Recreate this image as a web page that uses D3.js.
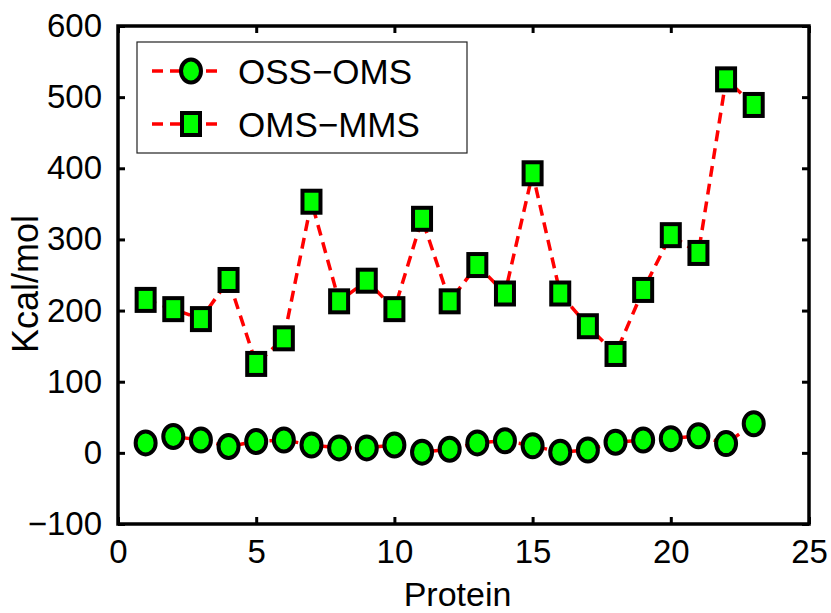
<!DOCTYPE html>
<html>
<head>
<meta charset="utf-8">
<script src="https://cdn.jsdelivr.net/npm/d3@7"></script>
<style>
  body { margin: 0; background: #fff; }
  svg text { font-family: "Liberation Sans", Arial, Helvetica, sans-serif; fill: #000; }
</style>
</head>
<body>
<svg id="chart" width="831" height="613"></svg>
<script>
// protein index
const proteins = d3.range(1, 24)

// energy differences, Kcal/mol
const ossOms = [14, 23, 18, 9, 16, 18, 11, 7, 7, 11, 1, 5, 14, 17, 10, 1, 4, 15, 18, 20, 24, 13, 41]
const omsMms = [215, 202, 188, 243, 125, 161, 353, 213, 242, 202, 329, 213, 264, 224, 393, 224, 178, 139, 229, 306, 281, 525, 489]

const xTicks = [0, 5, 10, 15, 20, 25]
const yTicks = [-100, 0, 100, 200, 300, 400, 500, 600]

const seriesNames = ['OSS\u2212OMS', 'OMS\u2212MMS']

const svg = d3.select('#chart')

const dims = { left: 118, right: 809, top: 26, bottom: 524 }

const x = d3.scaleLinear().domain([0, 25]).range([dims.left, dims.right])
const y = d3.scaleLinear().domain([-100, 600]).range([dims.bottom, dims.top])

/// axes: ticks drawn inward on all four sides ////////
const tickLen = 7
const minus = d => d < 0 ? '\u2212' + Math.abs(d) : String(d)

svg.append('g')
    .attr('class', 'labelled')
    .attr('transform', `translate(0,${dims.bottom})`)
    .call(d3.axisBottom(x).tickValues(xTicks).tickSizeInner(-tickLen).tickSizeOuter(0).tickPadding(16).tickFormat(minus))
svg.append('g')
    .attr('transform', `translate(0,${dims.top})`)
    .call(d3.axisTop(x).tickValues(xTicks).tickSizeInner(-tickLen).tickSizeOuter(0))
svg.append('g')
    .attr('class', 'labelled')
    .attr('transform', `translate(${dims.left},0)`)
    .call(d3.axisLeft(y).tickValues(yTicks).tickSizeInner(-tickLen).tickSizeOuter(0).tickPadding(16).tickFormat(minus))
svg.append('g')
    .attr('transform', `translate(${dims.right},0)`)
    .call(d3.axisRight(y).tickValues(yTicks).tickSizeInner(-tickLen).tickSizeOuter(0))

svg.selectAll('.domain').remove()
svg.selectAll('g:not(.labelled) > .tick text').remove()
svg.selectAll('.tick line').attr('stroke', '#000').attr('stroke-width', 3)
svg.selectAll('.tick text').style('font-size', '33px')

// frame
svg.append('rect')
    .attr('x', dims.left)
    .attr('y', dims.top)
    .attr('width', dims.right - dims.left)
    .attr('height', dims.bottom - dims.top)
    .attr('fill', 'none')
    .attr('stroke', '#000')
    .attr('stroke-width', 3.5)

// axis titles
svg.append('text')
    .attr('x', (dims.left + dims.right) / 2 - 6)
    .attr('y', 606)
    .attr('text-anchor', 'middle')
    .style('font-size', '34px')
    .text('Protein')

svg.append('text')
    .attr('transform', `translate(38,${(dims.top + dims.bottom) / 2 + 9}) rotate(-90)`)
    .attr('text-anchor', 'middle')
    .style('font-size', '36px')
    .text('Kcal/mol')

/// series ////////
const line = d3.line()
    .x((d, i) => x(proteins[i]))
    .y(d => y(d))

const plot = svg.append('g')

;[ossOms, omsMms].forEach(values => {
    plot.append('path')
        .datum(values)
        .attr('d', line)
        .attr('fill', 'none')
        .attr('stroke', '#ff0000')
        .attr('stroke-width', 3.5)
        .attr('stroke-dasharray', '11,7')
})

function circle(g) {
    g.append('ellipse')
        .attr('rx', 10)
        .attr('ry', 11.5)
        .attr('fill', '#00ff00')
        .attr('stroke', '#000')
        .attr('stroke-width', 4)
}

function square(g) {
    g.append('rect')
        .attr('x', -9)
        .attr('y', -11)
        .attr('width', 18)
        .attr('height', 22)
        .attr('fill', '#00ff00')
        .attr('stroke', '#000')
        .attr('stroke-width', 4)
}

plot.selectAll('g.circle')
    .data(ossOms)
    .join('g')
    .classed('circle', true)
    .attr('transform', (d, i) => `translate(${x(proteins[i])},${y(d)})`)
    .each(function() { circle(d3.select(this)) })

plot.selectAll('g.square')
    .data(omsMms)
    .join('g')
    .classed('square', true)
    .attr('transform', (d, i) => `translate(${x(proteins[i])},${y(d)})`)
    .each(function() { square(d3.select(this)) })

/// legend ////////
const legend = svg.append('g')
legend.append('rect')
    .attr('x', 137)
    .attr('y', 42)
    .attr('width', 330)
    .attr('height', 111)
    .attr('fill', '#fff')
    .attr('stroke', '#222')
    .attr('stroke-width', 1.2)

const rows = [{ name: seriesNames[0], marker: circle, cy: 71 },
              { name: seriesNames[1], marker: square, cy: 124 }]

rows.forEach(r => {
    legend.append('line')
        .attr('x1', 152).attr('x2', 219)
        .attr('y1', r.cy).attr('y2', r.cy)
        .attr('stroke', '#ff0000')
        .attr('stroke-width', 3.5)
        .attr('stroke-dasharray', '11,7')
    const m = legend.append('g').attr('transform', `translate(191,${r.cy})`)
    r.marker(m)
    legend.append('text')
        .attr('x', 238)
        .attr('y', r.cy + 12.5)
        .style('font-size', '35px')
        .text(r.name)
})
</script>
</body>
</html>
